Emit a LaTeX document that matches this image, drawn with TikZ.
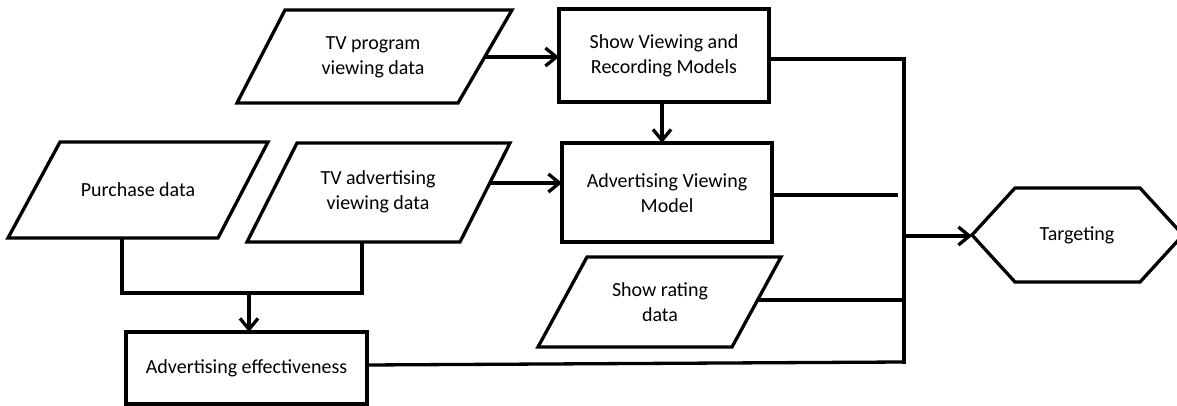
\documentclass[tikz,border=0pt]{standalone}
\usepackage{fontspec}
\setmainfont{Carlito}
\usetikzlibrary{arrows.meta}
\begin{document}
\begin{tikzpicture}[x=1pt,y=-1pt,
  shp/.style={draw=black,line width=3.3pt,line join=miter},
  txt/.style={align=center,font=\fontsize{20}{25}\selectfont,inner sep=0pt},
  wire/.style={draw=black,line width=3.3pt},
  arr/.style={wire,-{Straight Barb[length=11pt,width=18pt,line width=3.3pt]}}]
\useasboundingbox (0,0) rectangle (1177,406);
% parallelograms
\draw[shp] (285,10) -- (512,10) -- (458,103) -- (237,103) -- cycle;
\node[txt] (tvp) at (373,57) {TV program\\viewing data};
\coordinate (tvpE) at (486,57);
\draw[shp] (60,142) -- (268,142) -- (218,238) -- (8,238) -- cycle;
\node[txt] (pur) at (138,190) {Purchase data};
\coordinate (purS) at (122,238);
\draw[shp] (297,143) -- (510,143) -- (460,242) -- (247,242) -- cycle;
\node[txt] (tva) at (378,192) {TV advertising\\viewing data};
\coordinate (tvaE) at (490,183);
\coordinate (tvaS) at (362,242);
\draw[shp] (587,257) -- (781,257) -- (732,347) -- (538,347) -- cycle;
\node[txt] (rat) at (660,302) {Show rating\\data};
\coordinate (ratE) at (758,300);
% boxes
\draw[shp] (559,9) rectangle (769,102);
\node[txt] (svr) at (664,55.5) {Show Viewing and\\Recording Models};
\draw[shp] (562,143) rectangle (772,242);
\node[txt] (avm) at (667,193) {Advertising Viewing\\Model};
\draw[shp] (126,332) rectangle (367,404);
\node[txt] (eff) at (246.5,368) {Advertising effectiveness};
% hexagon
\draw[shp] (972,235) -- (1015,188) -- (1140,188) -- (1183,235) -- (1140,282) -- (1015,282) -- cycle;
\node[txt] (tgt) at (1077,235) {Targeting};
% connection points
\coordinate (svrW) at (559,57);
\coordinate (svrS) at (662,102);
\coordinate (svrE) at (769,59);
\coordinate (avmN) at (662,143);
\coordinate (avmW) at (562,183);
\coordinate (avmE) at (772,195);
\coordinate (effN) at (249,332);
\coordinate (effE) at (367,365);
\coordinate (tgtW) at (972,236);
\coordinate (busT) at (904,57.5);
\coordinate (busB) at (904,363.5);
\coordinate (busM) at (904,236);
\coordinate (join) at (249,293);
% connectors
\draw[arr] (tvpE) -- (svrW);
\draw[arr] (svrS) -- (avmN);
\draw[arr] (tvaE) -- (avmW);
\draw[wire] (purS) |- (join) -| (tvaS);
\draw[arr] (join) -- (effN);
\draw[wire] (svrE) -- (busT |- svrE);
\draw[wire] (busT) -- (busB);
\draw[wire] (avmE) -- ++(126,0);
\draw[wire] (ratE) -- (busT |- ratE);
\draw[wire] (effE) -- (903,362);
\draw[arr] (busM) -- (tgtW);
\end{tikzpicture}
\end{document}
